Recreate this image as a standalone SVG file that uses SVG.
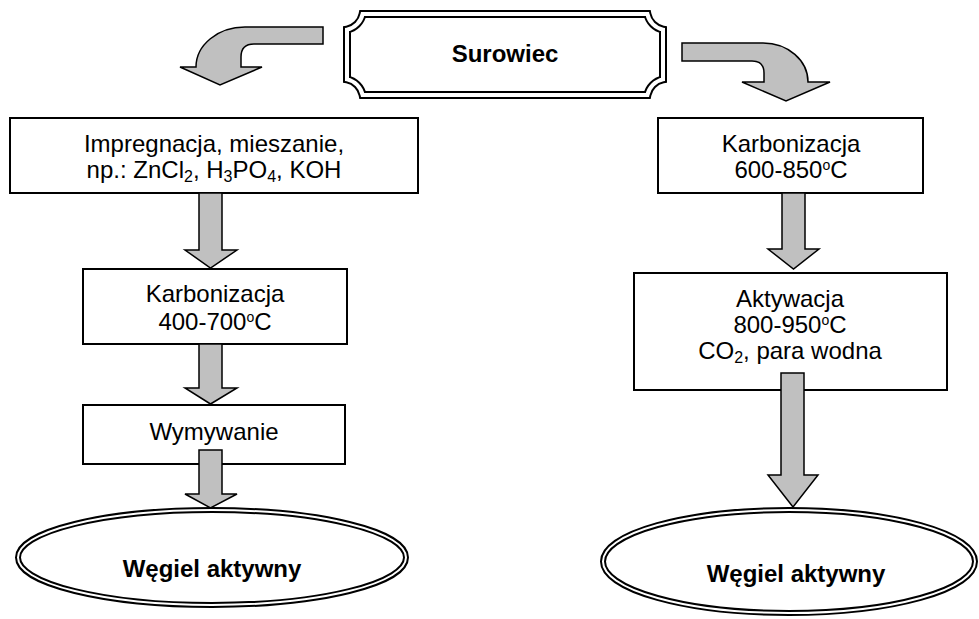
<svg xmlns="http://www.w3.org/2000/svg" width="979" height="619" viewBox="0 0 979 619">
<style>
.box{fill:#fff;stroke:#000;stroke-width:2}
.arr{fill:#c0c0c0;stroke:#000;stroke-width:1.5;stroke-linejoin:miter}
.t{font-family:"Liberation Sans",Arial,sans-serif;font-size:24px;fill:#000;text-anchor:middle}
.b{font-weight:bold}
.sup{font-size:14px}
.sub{font-size:16px}
.dblk{fill:#fff;stroke:#000}
.dwht{fill:none;stroke:#fff}
</style>
<rect width="979" height="619" fill="#fff"/>
<g id="surowiec">
<path class="dblk" stroke-width="8" d="M362.6,14 H647.4 A20,20 0 0 0 663,29.6 V79.4 A20,20 0 0 0 647.4,95 H362.6 A20,20 0 0 0 347,79.4 V29.6 A20,20 0 0 0 362.6,14 Z"/>
<path class="dwht" stroke-width="4" d="M362.6,14 H647.4 A20,20 0 0 0 663,29.6 V79.4 A20,20 0 0 0 647.4,95 H362.6 A20,20 0 0 0 347,79.4 V29.6 A20,20 0 0 0 362.6,14 Z"/>
<text class="t b" x="505" y="62" font-size="26">Surowiec</text>
</g>
<g id="impregnacja">
<rect class="box" x="10" y="118" width="408" height="75"/>
<text class="t" x="214" y="152">Impregnacja, mieszanie,</text>
<text class="t" x="214" y="178">np.: ZnCl<tspan class="sub" dy="4">2</tspan><tspan dy="-4">, H</tspan><tspan class="sub" dy="4">3</tspan><tspan dy="-4">PO</tspan><tspan class="sub" dy="4">4</tspan><tspan dy="-4">, KOH</tspan></text>
</g>
<g id="karbonizacja1">
<rect class="box" x="83" y="269" width="264" height="75"/>
<text class="t" x="215" y="302">Karbonizacja</text>
<text class="t" x="215" y="330">400-700<tspan class="sup" dy="-8">o</tspan><tspan dy="8">C</tspan></text>
</g>
<g id="wymywanie">
<rect class="box" x="83" y="405" width="262" height="59"/>
<text class="t" x="214" y="440" font-size="26">Wymywanie</text>
</g>
<g id="wegiel1">
<ellipse class="dblk" stroke-width="6" cx="212" cy="557.5" rx="194" ry="47.5"/>
<ellipse class="dwht" stroke-width="2" cx="212" cy="557.5" rx="194" ry="47.5"/>
<text class="t b" x="212" y="577">Węgiel aktywny</text>
</g>
<g id="karbonizacja2">
<rect class="box" x="658" y="118" width="265" height="75"/>
<text class="t" x="791" y="152">Karbonizacja</text>
<text class="t" x="791" y="178">600-850<tspan class="sup" dy="-8">o</tspan><tspan dy="8">C</tspan></text>
</g>
<g id="aktywacja">
<rect class="box" x="634" y="273" width="313" height="117"/>
<text class="t" x="790" y="307">Aktywacja</text>
<text class="t" x="790" y="333">800-950<tspan class="sup" dy="-8">o</tspan><tspan dy="8">C</tspan></text>
<text class="t" x="790" y="359">CO<tspan class="sub" dy="4">2</tspan><tspan dy="-4">, para wodna</tspan></text>
</g>
<g id="wegiel2">
<ellipse class="dblk" stroke-width="6" cx="789" cy="561.5" rx="186" ry="51.5"/>
<ellipse class="dwht" stroke-width="2" cx="789" cy="561.5" rx="186" ry="51.5"/>
<text class="t b" x="796" y="582">Węgiel aktywny</text>
</g>
<g id="connectors">
<path class="arr" d="M323,27 H245 A49,40 0 0 0 196,67 H180 L220,85 L262,67 H241 V57 Q241,44 254,44 H323 Z"/>
<path class="arr" d="M682,43 H763 A45,39 0 0 1 808,82 H830 L786,101 L742,82 H764 V73 Q764,61 752,61 H682 Z"/>
<path class="arr" d="M199,193 V250 H185 L210.5,268 L237,250 H222 V193 Z"/>
<path class="arr" d="M199,344 V388 H185 L210.5,404 L237,388 H222 V344 Z"/>
<path class="arr" d="M199,450 V494 H185 L210.5,508 L237,494 H222 V450 Z"/>
<path class="arr" d="M782,193 V249 H768 L793.5,269 L819,249 H805 V193 Z"/>
<path class="arr" d="M781,373 V475 H768 L793,507 L818,475 H804 V373 Z"/>
</g>
</svg>
